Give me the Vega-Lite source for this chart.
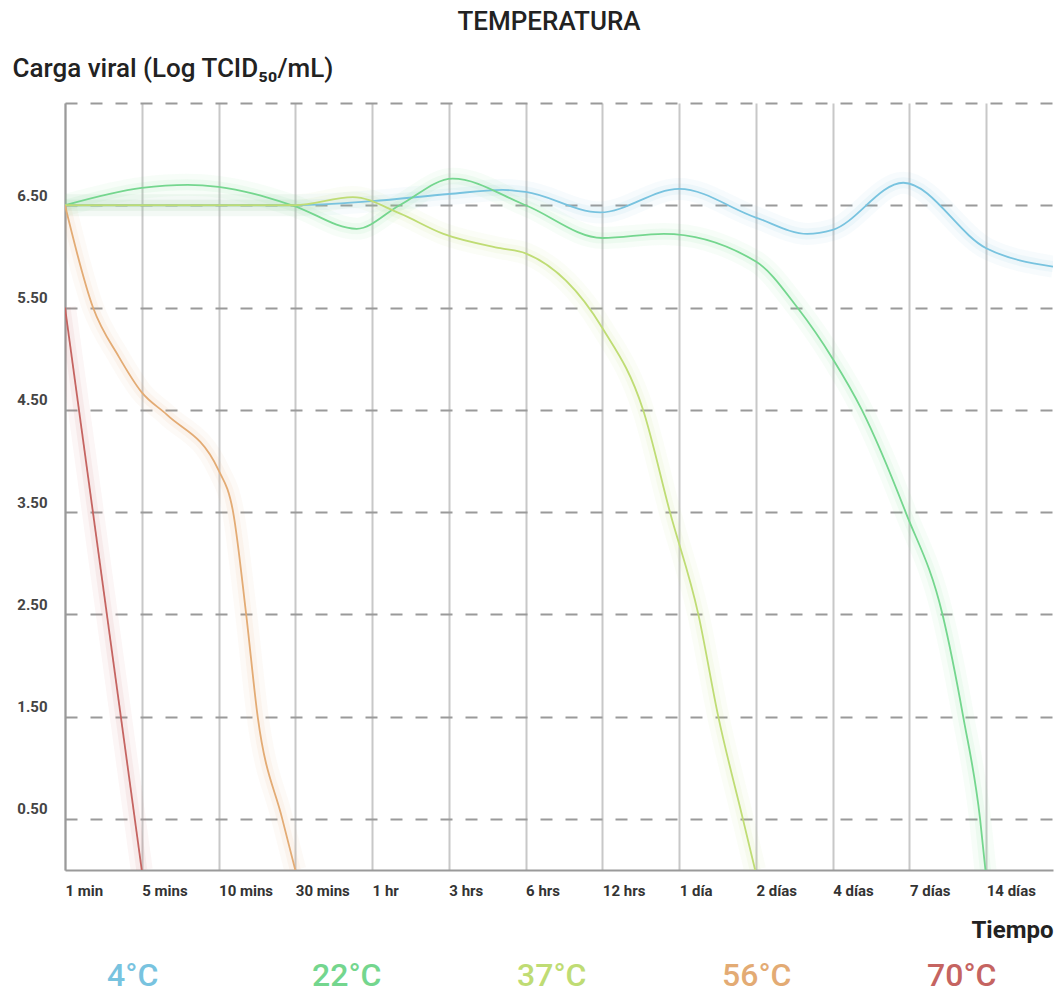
{
  "$schema": "https://vega.github.io/schema/vega-lite/v6.json",
  "autosize": "none",
  "width": 988,
  "height": 767,
  "padding": {"left": 65, "top": 103, "right": 6, "bottom": 123},
  "background": "white",
  "config": {"view": {"stroke": null}, "font": "Roboto"},
  "title": {"text": "TEMPERATURA", "fontSize": 26, "font": "Roboto", "fontWeight": 500, "color": "#222222", "anchor": "middle", "dx": -10, "offset": 20},
  "data": {"values": [
    {"temp": "4°C", "t": 0, "v": 6.5},
    {"temp": "4°C", "t": 1, "v": 6.5},
    {"temp": "4°C", "t": 2, "v": 6.5},
    {"temp": "4°C", "t": 3, "v": 6.5},
    {"temp": "4°C", "t": 4, "v": 6.54},
    {"temp": "4°C", "t": 5, "v": 6.61},
    {"temp": "4°C", "t": 5.7, "v": 6.65},
    {"temp": "4°C", "t": 6, "v": 6.63},
    {"temp": "4°C", "t": 6.97, "v": 6.43},
    {"temp": "4°C", "t": 8, "v": 6.66},
    {"temp": "4°C", "t": 9, "v": 6.38},
    {"temp": "4°C", "t": 9.67, "v": 6.22},
    {"temp": "4°C", "t": 10, "v": 6.26},
    {"temp": "4°C", "t": 10.92, "v": 6.72},
    {"temp": "4°C", "t": 12, "v": 6.08},
    {"temp": "4°C", "t": 12.87, "v": 5.9},
    {"temp": "22°C", "t": 0, "v": 6.5},
    {"temp": "22°C", "t": 1, "v": 6.67},
    {"temp": "22°C", "t": 1.6, "v": 6.7},
    {"temp": "22°C", "t": 2, "v": 6.68},
    {"temp": "22°C", "t": 2.96, "v": 6.5},
    {"temp": "22°C", "t": 3.8, "v": 6.27},
    {"temp": "22°C", "t": 4.36, "v": 6.5},
    {"temp": "22°C", "t": 5.05, "v": 6.76},
    {"temp": "22°C", "t": 6, "v": 6.5},
    {"temp": "22°C", "t": 7, "v": 6.18},
    {"temp": "22°C", "t": 7.8, "v": 6.22},
    {"temp": "22°C", "t": 9, "v": 5.95},
    {"temp": "22°C", "t": 9.54, "v": 5.5},
    {"temp": "22°C", "t": 10, "v": 5.0},
    {"temp": "22°C", "t": 10.38, "v": 4.5},
    {"temp": "22°C", "t": 10.95, "v": 3.5},
    {"temp": "22°C", "t": 11.43, "v": 2.5},
    {"temp": "22°C", "t": 11.7, "v": 1.5},
    {"temp": "22°C", "t": 11.92, "v": 0.5},
    {"temp": "22°C", "t": 11.99, "v": 0},
    {"temp": "37°C", "t": 0, "v": 6.5},
    {"temp": "37°C", "t": 1, "v": 6.5},
    {"temp": "37°C", "t": 2, "v": 6.5},
    {"temp": "37°C", "t": 3, "v": 6.5},
    {"temp": "37°C", "t": 3.75, "v": 6.58},
    {"temp": "37°C", "t": 4.36, "v": 6.42},
    {"temp": "37°C", "t": 4.93, "v": 6.22},
    {"temp": "37°C", "t": 5.67, "v": 6.08},
    {"temp": "37°C", "t": 6, "v": 6.03},
    {"temp": "37°C", "t": 7, "v": 5.3},
    {"temp": "37°C", "t": 7.53, "v": 4.5},
    {"temp": "37°C", "t": 7.88, "v": 3.5},
    {"temp": "37°C", "t": 8.25, "v": 2.5},
    {"temp": "37°C", "t": 8.51, "v": 1.5},
    {"temp": "37°C", "t": 8.83, "v": 0.5},
    {"temp": "37°C", "t": 8.99, "v": 0},
    {"temp": "56°C", "t": 0, "v": 6.5},
    {"temp": "56°C", "t": 0.365, "v": 5.5},
    {"temp": "56°C", "t": 0.7, "v": 5.02},
    {"temp": "56°C", "t": 1, "v": 4.67},
    {"temp": "56°C", "t": 1.33, "v": 4.45},
    {"temp": "56°C", "t": 2, "v": 3.91},
    {"temp": "56°C", "t": 2.19, "v": 3.5},
    {"temp": "56°C", "t": 2.36, "v": 2.5},
    {"temp": "56°C", "t": 2.51, "v": 1.5},
    {"temp": "56°C", "t": 2.83, "v": 0.5},
    {"temp": "56°C", "t": 3.0, "v": 0},
    {"temp": "70°C", "t": 0, "v": 5.5},
    {"temp": "70°C", "t": 1.0, "v": 0}
  ]},
  "encoding": {
    "x": {
      "field": "t", "type": "quantitative",
      "scale": {"domain": [0, 12.87], "nice": false, "zero": false},
      "axis": {
        "values": [0,1,2,3,4,5,6,7,8,9,10,11,12],
        "labelExpr": "['1 min','5 mins','10 mins','30 mins','1 hr','3 hrs','6 hrs','12 hrs','1 día','2 días','4 días','7 días','14 días'][datum.value]",
        "grid": true, "gridColor": "#c8c8c8", "gridWidth": 2,
        "domainColor": "#9a9a9a", "domainWidth": 2,
        "ticks": false,
        "labelAlign": "left", "labelFont": "Roboto", "labelFontSize": 15, "labelFontWeight": "bold", "labelColor": "#333333", "labelPadding": 13,
        "labelFlush": false, "labelOverlap": false,
        "title": "Tiempo", "titleX": 988, "titleY": 60, "titleAlign": "right", "titleBaseline": "middle", "titleFont": "Roboto", "titleFontSize": 24, "titleFontWeight": "bold", "titleColor": "#222222"
      }
    },
    "y": {
      "field": "v", "type": "quantitative",
      "scale": {"domain": [0, 7.5], "nice": false},
      "axis": {
        "values": [0.5,1.5,2.5,3.5,4.5,5.5,6.5,7.5],
        "labelExpr": "datum.value > 7 ? '' : format(datum.value, '.2f')",
        "grid": true, "gridColor": "#9a9a9a", "gridWidth": 2, "gridDash": [12, 13],
        "domainColor": "#9a9a9a", "domainWidth": 2,
        "ticks": false,
        "labelFont": "Roboto", "labelFontSize": 15, "labelFontWeight": "bold", "labelColor": "#444444", "labelPadding": 18, "labelOffset": -10,
        "title": "Carga viral (Log TCID₅₀/mL)", "titleAngle": 0, "titleX": -53, "titleY": -35, "titleAlign": "left", "titleBaseline": "middle", "titleFont": "Roboto", "titleFontSize": 26, "titleFontWeight": 500, "titleColor": "#222222"
      }
    },
    "color": {
      "field": "temp", "type": "nominal",
      "scale": {"domain": ["4°C", "22°C", "37°C", "56°C", "70°C"], "range": ["#78c3df", "#74d68e", "#bfdc74", "#e3ab74", "#c56461"]},
      "legend": {
        "orient": "none", "legendX": 10, "legendY": 857, "direction": "horizontal", "columns": 5, "title": null,
        "symbolSize": 0, "symbolOpacity": 0, "symbolStrokeWidth": 0, "symbolType": "circle",
        "labelFont": "Roboto", "labelFontSize": 32, "labelFontWeight": 500, "labelOffset": 0,
        "labelColor": {"expr": "scale('color', datum.value)"},
        "columnPadding": 103, "gridAlign": "all"
      }
    },
    "detail": {"field": "temp"}
  },
  "layer": [
    {"mark": {"type": "line", "interpolate": "monotone", "strokeWidth": 22, "opacity": 0.06, "clip": true}},
    {"mark": {"type": "line", "interpolate": "monotone", "strokeWidth": 11, "opacity": 0.08, "clip": true}},
    {"mark": {"type": "line", "interpolate": "monotone", "strokeWidth": 1.8, "clip": true}}
  ]
}
